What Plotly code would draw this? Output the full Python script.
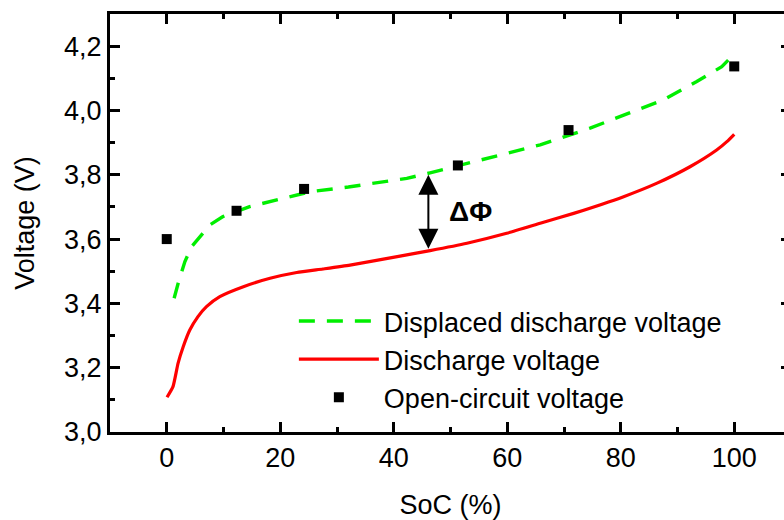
import plotly.graph_objects as go

# Open-circuit voltage points
ocv_soc = [0, 12.3, 24.2, 51.3, 70.8, 100]
ocv_v = [3.600, 3.688, 3.756, 3.829, 3.939, 4.137]

# Discharge voltage curve
dis_soc = [0.05, 1.1, 2.0, 2.9, 4.06, 5.5, 7.0, 9.35, 13.5, 18.2, 22.9, 27.5, 32.3, 41.1,
           46.4, 52.9, 59.9, 65.8, 71.7, 80.5, 86.4, 92.2, 96.9, 98.7, 100]
dis_v = [3.108, 3.141, 3.214, 3.265, 3.317, 3.359, 3.390, 3.421, 3.452, 3.478, 3.496, 3.507,
         3.519, 3.547, 3.564, 3.587, 3.618, 3.649, 3.680, 3.732, 3.774, 3.825, 3.877, 3.903, 3.926]

# Displaced discharge voltage curve
disp_soc = [1.3, 2.0, 3.2, 4.4, 7.6, 9.9, 14.6, 20.5, 25.2, 32.0, 42.3, 46.4, 55.2, 65.8,
            74.6, 80.5, 87.5, 93.4, 97.8, 100]
disp_v = [3.416, 3.462, 3.530, 3.577, 3.644, 3.670, 3.701, 3.727, 3.747, 3.762, 3.789, 3.806,
          3.846, 3.893, 3.945, 3.986, 4.033, 4.090, 4.136, 4.176]

# Annotation (delta-phi arrow)
arrow_soc = 46.1
arrow_top = 3.800
arrow_bot = 3.565
label_text = "ΔΦ"
label_soc = 53.5
label_v = 3.685

FONT = "Liberation Sans"

fig = go.Figure()
fig.add_trace(go.Scatter(x=disp_soc, y=disp_v, mode="lines", name="Displaced discharge voltage",
                         line=dict(color="#00EE00", width=3.4, dash="16px,12px")))
fig.add_trace(go.Scatter(x=dis_soc, y=dis_v, mode="lines", name="Discharge voltage",
                         line=dict(color="#FF0000", width=3.2, shape="spline", smoothing=0.5)))
fig.add_trace(go.Scatter(x=ocv_soc, y=ocv_v, mode="markers", name="Open-circuit voltage",
                         marker=dict(symbol="square", size=10, color="black")))

fig.add_annotation(x=arrow_soc, y=arrow_top, ax=arrow_soc, ay=arrow_bot, xref="x", yref="y",
                   axref="x", ayref="y", text="", showarrow=True, arrowhead=2, arrowside="end+start",
                   arrowsize=2.0, arrowwidth=2, arrowcolor="black")
fig.add_annotation(x=label_soc, y=label_v, xref="x", yref="y", text="<b>" + label_text + "</b>",
                   showarrow=False, font=dict(family=FONT, size=28, color="black"))

axis_common = dict(showline=True, linecolor="black", linewidth=3, mirror="ticks",
                   ticks="inside", ticklen=10, tickwidth=3, tickcolor="black",
                   showgrid=False, zeroline=False, automargin=False,
                   tickfont=dict(family=FONT, size=27, color="black"))

fig.update_xaxes(range=[-10, 110], tick0=0, dtick=20,
                 title=dict(text="SoC (%)", font=dict(family=FONT, size=27, color="black"), standoff=30),
                 minor=dict(ticks="inside", ticklen=5, tickwidth=3, tickcolor="black", dtick=10, tick0=0),
                 **axis_common)
fig.update_yaxes(range=[3.0, 4.3], tick0=3.0, dtick=0.2, tickformat=".1f",
                 title=dict(text="Voltage (V)", font=dict(family=FONT, size=27, color="black"), standoff=22),
                 minor=dict(ticks="inside", ticklen=5, tickwidth=3, tickcolor="black", dtick=0.1, tick0=3.0),
                 **axis_common)

fig.update_layout(
    width=800, height=520,
    margin=dict(l=110, r=9, t=14, b=88),
    separators=", ",
    plot_bgcolor="white", paper_bgcolor="white",
    showlegend=True,
    legend=dict(x=0.27, y=0.323, xanchor="left", yanchor="top", bgcolor="rgba(0,0,0,0)",
                font=dict(family=FONT, size=27, color="black"), itemwidth=80,
                tracegroupgap=0),
)

fig.write_html("out.html", post_script="document.body.style.overflow='hidden';document.body.style.margin='0';")
